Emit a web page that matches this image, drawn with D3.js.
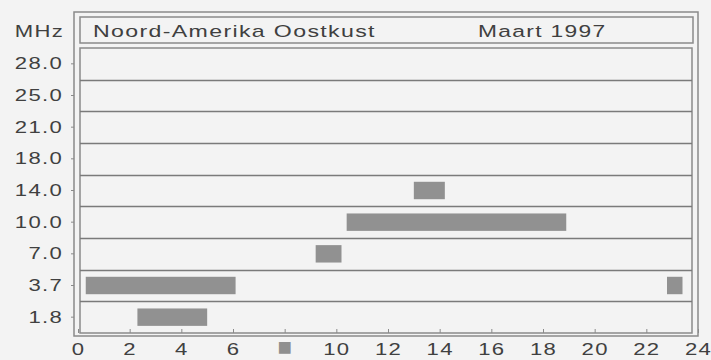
<!DOCTYPE html>
<html>
  <head>
	<meta charset="utf-8">
	<title>Noord-Amerika Oostkust</title>
	<script src="https://cdnjs.cloudflare.com/ajax/libs/d3/7.8.5/d3.min.js"></script>
	<style>
		body{
			margin:0;
			background:#f3f3f3;
		}
		svg{
			display:block;
		}
		text{
			font-family:"Liberation Sans", Arial, sans-serif;
			font-size:17px;
			fill:#404040;
			letter-spacing:1px;
		}
		.frame{
			fill:none;
			stroke:#8a8a8a;
			stroke-width:1.5px;
		}
		.row{
			stroke:#7a7a7a;
			stroke-width:1.5px;
		}
	</style>
  </head>
  <body>
    <div id="diagram"></div>
    <script>
	// frequency bands, top to bottom
	var bands = ["28.0", "25.0", "21.0", "18.0", "14.0", "10.0", "7.0", "3.7", "1.8"];
	// hours (UTC) on the bottom axis
	var hourTicks = [0, 2, 4, 6, 8, 10, 12, 14, 16, 18, 20, 22, 24];
	var hourLabels = ["0", "2", "4", "6", "\u25A0", "10", "12", "14", "16", "18", "20", "22", "24"];
	// open periods: band, from hour, to hour
	var openBand = ["14.0", "10.0", "7.0", "3.7", "3.7", "1.8"];
	var openFrom = [13.0, 10.4, 9.2, 0.3, 22.8, 2.3];
	var openTo   = [14.2, 18.9, 10.2, 6.1, 23.4, 5.0];

	var width = 711;
	var height = 360;
	var sx = 1.3; //the scanned letters are wide, stretch them a bit

	var svg = d3.select("#diagram").append("svg")
		.attr("width", width)
		.attr("height", height);

	var x = d3.scaleLinear().domain([0, 24]).range([78, 698]);
	var y = d3.scaleBand().domain(bands).range([48, 333]);

	//outer frame, title box and plot box
	svg.append("rect").attr("class", "frame")
		.attr("x", 74).attr("y", 12).attr("width", 624).attr("height", 324);
	svg.append("rect").attr("class", "frame")
		.attr("x", 80).attr("y", 17).attr("width", 613).attr("height", 26);
	svg.append("rect").attr("class", "frame")
		.attr("x", 80).attr("y", 48).attr("width", 612).attr("height", 285);

	//lines between the bands
	svg.selectAll(".row")
		.data(bands.slice(1))
		.enter().append("line")
		.attr("class", "row")
		.attr("x1", 80).attr("x2", 692)
		.attr("y1", function(d){ return Math.round(y(d)) + 0.5; })
		.attr("y2", function(d){ return Math.round(y(d)) + 0.5; });

	//open periods as bars
	var idx = d3.range(openBand.length);
	var barH = y.bandwidth() * 0.55;
	svg.selectAll(".bar")
		.data(idx)
		.enter().append("rect")
		.attr("class", "bar")
		.attr("x", function(i){ return x(openFrom[i]); })
		.attr("width", function(i){ return x(openTo[i]) - x(openFrom[i]); })
		.attr("y", function(i){ return y(openBand[i]) + (y.bandwidth() - barH) / 2; })
		.attr("height", barH)
		.attr("fill", "#919191");

	//bottom axis, ticks point into the plot
	var xAxis = d3.axisBottom(x)
		.tickValues(hourTicks)
		.tickFormat(function(d, i){ return hourLabels[i]; })
		.tickSizeInner(-4)
		.tickSizeOuter(0)
		.tickPadding(10);
	var gx = svg.append("g")
		.attr("transform", "translate(0,333)")
		.call(xAxis);
	gx.select(".domain").remove();
	gx.selectAll("line").attr("stroke", "#8a8a8a");
	gx.selectAll("text")
		.style("font-size", "17px")
		.attr("transform", "scale(" + sx + ",1)");
	//the 8 came out as a grey block in the scan
	gx.selectAll("text").filter(function(d){ return d == 8; })
		.style("fill", "#8f8f8f")
		.style("font-size", "24px")
		.attr("dy", "0.5em")
		.attr("transform", null);

	//left axis with the band labels
	var yAxis = d3.axisLeft(y).tickSizeInner(3).tickSizeOuter(0);
	var gy = svg.append("g")
		.attr("transform", "translate(74,0)")
		.call(yAxis);
	gy.select(".domain").remove();
	gy.selectAll("line").attr("stroke", "#8a8a8a");
	gy.selectAll("text")
		.attr("x", -11 / sx)
		.style("font-size", "17px")
		.attr("transform", "scale(" + sx + ",1)");

	//unit and title texts
	function label(txt, px, py, anchor, k){
		svg.append("text")
			.attr("transform", "translate(" + px + "," + py + ") scale(" + k + ",1)")
			.attr("text-anchor", anchor)
			.text(txt);
	}
	label("MHz", 64, 37, "end", sx);
	label("Noord-Amerika Oostkust", 93, 37, "start", 1.36);
	label("Maart 1997", 478, 37, "start", 1.34);
    </script>
  </body>
</html>
